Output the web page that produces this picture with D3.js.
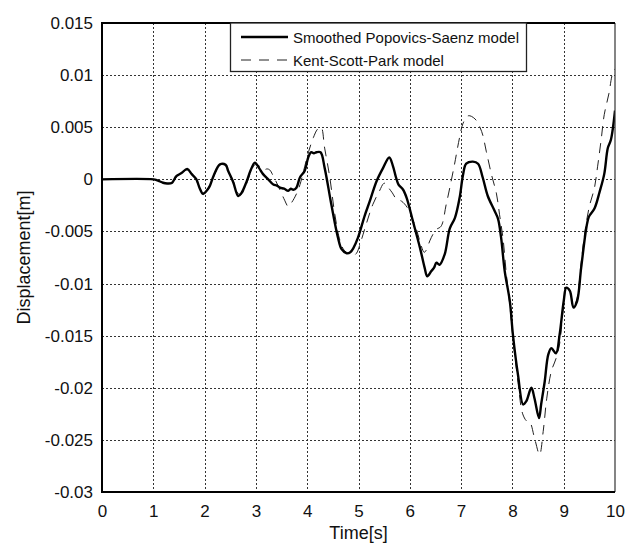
<!DOCTYPE html>
<html>
<head>
<meta charset="utf-8">
<script src="https://cdn.jsdelivr.net/npm/d3@7/dist/d3.min.js"></script>
<style>
  html, body { margin: 0; padding: 0; background: #fff; }
  svg { display: block; font-family: "Liberation Sans", Arial, Helvetica, sans-serif; }
</style>
</head>
<body>
<svg id="chart" width="638" height="545"></svg>
<script>
// Time axis [s] and displacement [m] for the smoothed Popovics-Saenz response
const timeSPS = [0, 1.0, 1.08, 1.19, 1.27, 1.36, 1.45, 1.55, 1.66, 1.75, 1.84, 1.9, 1.97, 2.04, 2.1, 2.18, 2.3, 2.41, 2.46, 2.56, 2.655, 2.72, 2.82, 2.9, 2.98, 3.06, 3.14, 3.24, 3.34, 3.41, 3.47, 3.55, 3.63, 3.68, 3.73, 3.79, 3.86, 3.95, 4.02, 4.08, 4.13, 4.18, 4.26, 4.34, 4.47, 4.6, 4.67, 4.77, 4.84, 4.9, 4.99, 5.12, 5.22, 5.35, 5.48, 5.6, 5.67, 5.73, 5.78, 5.87, 5.94, 6.06, 6.2, 6.29, 6.34, 6.42, 6.47, 6.52, 6.58, 6.68, 6.78, 6.88, 6.97, 7.04, 7.1, 7.23, 7.33, 7.42, 7.52, 7.65, 7.72, 7.78, 7.85, 7.95, 8.01, 8.11, 8.21, 8.27, 8.37, 8.43, 8.52, 8.56, 8.63, 8.7, 8.76, 8.85, 8.92, 9.0, 9.05, 9.12, 9.19, 9.26, 9.34, 9.44, 9.49, 9.6, 9.7, 9.79, 9.86, 9.92, 10.0];
const dispSPS = [0, 0, -0.0001, -0.00033, -0.0004, -0.00035, 0.0003, 0.0006, 0.001, 0.0005, 0.0, -0.0008, -0.0014, -0.0011, -0.00065, 0.0004, 0.00144, 0.0014, 0.0008, -0.0003, -0.0016, -0.0013, -0.0002, 0.0009, 0.0016, 0.0011, 0.0005, 0.0, -0.0005, -0.0006, -0.0008, -0.0009, -0.0011, -0.0009, -0.001, -0.0008, 0.0002, 0.0008, 0.0021, 0.0026, 0.0025, 0.0026, 0.0026, 0.0011, -0.0024, -0.0056, -0.0067, -0.0071, -0.007, -0.0066, -0.0056, -0.0035, -0.0021, -0.0002, 0.0011, 0.0021, 0.0013, 0.0002, -0.0005, -0.001, -0.0018, -0.004, -0.0066, -0.0085, -0.0093, -0.0088, -0.0085, -0.008, -0.0082, -0.0072, -0.0047, -0.0037, -0.0018, 0.0005, 0.0015, 0.0017, 0.0015, 0.0002, -0.0016, -0.003, -0.0038, -0.0056, -0.0088, -0.0117, -0.0149, -0.0188, -0.0216, -0.0213, -0.02, -0.021, -0.0229, -0.0216, -0.0194, -0.0168, -0.0162, -0.0167, -0.0149, -0.0117, -0.0104, -0.0107, -0.0123, -0.0117, -0.0085, -0.0047, -0.0036, -0.0028, -0.0012, 0.0005, 0.003, 0.0038, 0.0066];

// Time axis [s] and displacement [m] for the Kent-Scott-Park response
const timeKSP = [0, 1.0, 1.08, 1.19, 1.27, 1.36, 1.45, 1.55, 1.66, 1.75, 1.84, 1.9, 1.97, 2.04, 2.1, 2.18, 2.3, 2.41, 2.46, 2.56, 2.66, 2.72, 2.82, 2.9, 2.98, 3.06, 3.14, 3.22, 3.27, 3.34, 3.45, 3.56, 3.63, 3.7, 3.79, 3.86, 3.95, 4.03, 4.12, 4.2, 4.27, 4.34, 4.44, 4.54, 4.64, 4.72, 4.8, 4.9, 4.96, 5.05, 5.15, 5.28, 5.41, 5.49, 5.53, 5.6, 5.66, 5.74, 5.84, 5.95, 6.05, 6.13, 6.2, 6.28, 6.32, 6.39, 6.46, 6.52, 6.61, 6.71, 6.78, 6.87, 6.97, 7.04, 7.14, 7.27, 7.4, 7.49, 7.59, 7.69, 7.75, 7.82, 7.88, 7.95, 8.01, 8.11, 8.2, 8.28, 8.34, 8.43, 8.53, 8.6, 8.67, 8.76, 8.85, 8.92, 9.0, 9.05, 9.12, 9.19, 9.26, 9.34, 9.42, 9.5, 9.6, 9.66, 9.73, 9.79, 9.88, 9.95, 10.0];
const dispKSP = [0, 0, -0.0001, -0.0003, -0.0004, -0.0003, 0.0002, 0.0006, 0.0009, 0.0005, -0.0001, -0.0008, -0.0013, -0.0011, -0.0006, 0.0003, 0.0014, 0.0013, 0.0009, -0.0002, -0.0014, -0.0014, -0.0004, 0.0007, 0.0014, 0.0013, 0.0009, 0.001, 0.0009, 0.0003, -0.0008, -0.002, -0.0026, -0.0022, -0.0014, -0.0005, 0.0012, 0.0027, 0.004, 0.0048, 0.005, 0.003, 0.0002, -0.0034, -0.0059, -0.0068, -0.0071, -0.0073, -0.0071, -0.0059, -0.0043, -0.0024, -0.0011, -0.0004, -0.0004, -0.0009, -0.0013, -0.0019, -0.0021, -0.0027, -0.0038, -0.0048, -0.006, -0.007, -0.0068, -0.0059, -0.0052, -0.0048, -0.0045, -0.0024, -0.0008, 0.0014, 0.004, 0.0054, 0.0061, 0.0058, 0.0046, 0.0027, 0.0005, -0.0014, -0.0034, -0.0058, -0.009, -0.0121, -0.0152, -0.0195, -0.0225, -0.0232, -0.0233, -0.0248, -0.0264, -0.0242, -0.021, -0.0184, -0.0172, -0.0158, -0.012, -0.0106, -0.0108, -0.0122, -0.0114, -0.008, -0.0048, -0.0026, -0.0008, 0.0012, 0.0038, 0.0062, 0.0082, 0.0101, 0.0106];

const xTicks = [0, 1, 2, 3, 4, 5, 6, 7, 8, 9, 10];
const yTicks = [0.015, 0.01, 0.005, 0, -0.005, -0.01, -0.015, -0.02, -0.025, -0.03];
const yTickLabels = ["0.015", "0.01", "0.005", "0", "-0.005", "-0.01", "-0.015", "-0.02", "-0.025", "-0.03"];
const seriesNames = ["Smoothed Popovics-Saenz model", "Kent-Scott-Park model"];

(function draw() {
  const svg = d3.select("#chart");
  const pLeft = 102, pRight = 615, pTop = 23, pBottom = 492;

  const x = d3.scaleLinear().domain([0, 10]).range([pLeft, pRight]);
  const y = d3.scaleLinear().domain([-0.03, 0.015]).range([pBottom, pTop]);

  // dotted grid
  const grid = svg.append("g").attr("stroke", "#333").attr("stroke-width", 1)
    .attr("stroke-dasharray", "2,2").attr("shape-rendering", "crispEdges");
  grid.selectAll("line.v").data(xTicks.slice(1, -1)).join("line")
    .attr("x1", d => Math.round(x(d)) + 0.5).attr("x2", d => Math.round(x(d)) + 0.5)
    .attr("y1", pTop).attr("y2", pBottom);
  grid.selectAll("line.h").data(yTicks.slice(1, -1)).join("line")
    .attr("y1", d => Math.round(y(d)) + 0.5).attr("y2", d => Math.round(y(d)) + 0.5)
    .attr("x1", pLeft).attr("x2", pRight);

  // axes with labels only
  const xAxis = d3.axisBottom(x).tickValues(xTicks).tickSize(0).tickPadding(13).tickFormat(d3.format("d"));
  const yAxis = d3.axisLeft(y).tickValues(yTicks).tickSize(0).tickPadding(9)
    .tickFormat((d, i) => yTickLabels[i]);

  const gx = svg.append("g").attr("transform", `translate(0,${pBottom})`).call(xAxis);
  const gy = svg.append("g").attr("transform", `translate(${pLeft},0)`).call(yAxis);
  [gx, gy].forEach(g => {
    g.select(".domain").remove();
    g.selectAll("text").attr("font-family", "Liberation Sans, Arial, sans-serif")
      .attr("font-size", 17).attr("fill", "#111");
  });

  // curves
  svg.append("clipPath").attr("id", "plot-clip")
    .append("rect").attr("x", pLeft).attr("y", pTop).attr("width", pRight - pLeft).attr("height", pBottom - pTop);

  const line = d3.line().x(d => x(d[0])).y(d => y(d[1])).curve(d3.curveCatmullRom.alpha(0.5));
  const ksp = d3.zip(timeKSP, dispKSP);
  const sps = d3.zip(timeSPS, dispSPS);

  const plot = svg.append("g").attr("clip-path", "url(#plot-clip)");
  plot.append("path").datum(ksp).attr("d", line)
    .attr("fill", "none").attr("stroke", "#222").attr("stroke-width", 1)
    .attr("stroke-dasharray", "10,7");
  plot.append("path").datum(sps).attr("d", line)
    .attr("fill", "none").attr("stroke", "#000").attr("stroke-width", 2.4)
    .attr("stroke-linejoin", "round");

  // frame
  svg.append("line").attr("x1", pRight).attr("x2", pRight).attr("y1", pTop).attr("y2", pBottom)
    .attr("stroke", "#333").attr("stroke-width", 1.2);
  svg.append("line").attr("x1", pLeft).attr("x2", pRight).attr("y1", pTop).attr("y2", pTop)
    .attr("stroke", "#000").attr("stroke-width", 2);
  svg.append("line").attr("x1", pLeft).attr("x2", pLeft).attr("y1", pTop - 1).attr("y2", pBottom + 1)
    .attr("stroke", "#000").attr("stroke-width", 2);
  svg.append("line").attr("x1", pLeft - 1).attr("x2", pRight).attr("y1", pBottom).attr("y2", pBottom)
    .attr("stroke", "#000").attr("stroke-width", 2);

  // axis titles
  svg.append("text").attr("x", (pLeft + pRight) / 2).attr("y", 539)
    .attr("text-anchor", "middle").attr("font-size", 18).attr("fill", "#111").text("Time[s]");
  svg.append("text").attr("transform", `translate(30,${(pTop + pBottom) / 2}) rotate(-90)`)
    .attr("text-anchor", "middle").attr("font-size", 18).attr("fill", "#111").text("Displacement[m]");

  // legend
  const legend = svg.append("g");
  legend.append("rect").attr("x", 230.5).attr("y", 23).attr("width", 296).attr("height", 48.5)
    .attr("fill", "#fff").attr("stroke", "#222").attr("stroke-width", 1.3);
  const legendRows = [
    { name: seriesNames[0], y: 37, width: 2.4, dash: null, color: "#000" },
    { name: seriesNames[1], y: 60, width: 1, dash: "10,8", color: "#222" }
  ];
  legendRows.forEach(r => {
    legend.append("line").attr("x1", 241).attr("x2", 288).attr("y1", r.y).attr("y2", r.y)
      .attr("stroke", r.color).attr("stroke-width", r.width)
      .attr("stroke-dasharray", r.dash);
    legend.append("text").attr("x", 293).attr("y", r.y + 5.5).attr("font-size", 15)
      .attr("fill", "#111").text(r.name);
  });
})();
</script>
</body>
</html>
